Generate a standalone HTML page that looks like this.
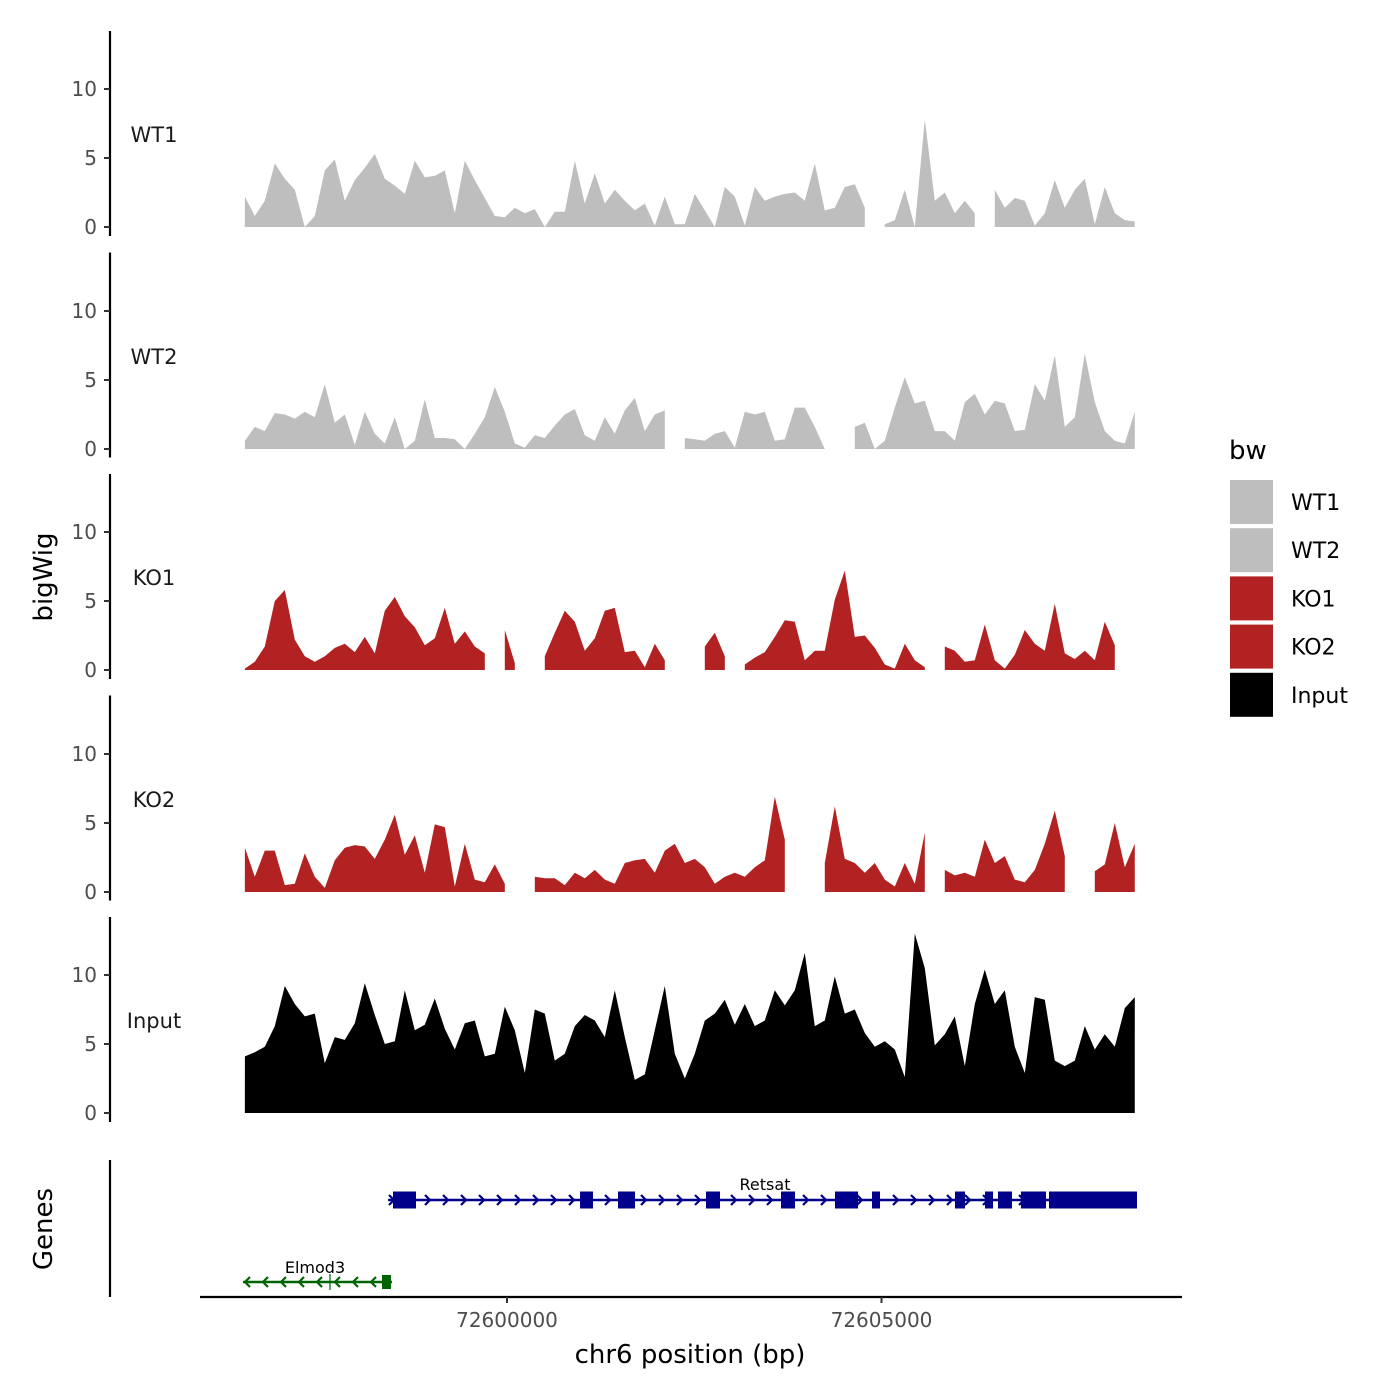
<!DOCTYPE html>
<html><head><meta charset="utf-8"><style>
html,body{margin:0;padding:0;background:#fff;}
svg{display:block;font-family:"DejaVu Sans","Liberation Sans",sans-serif;}
</style></head><body>
<svg id="chart" width="1400" height="1400" viewBox="0 0 1400 1400"></svg>
<script>
const trackNames = ["WT1","WT2","KO1","KO2","Input"];
const trackColors = ["#bebebe","#bebebe","#b22222","#b22222","#000000"];
const yTicks = [0,5,10];
const xTicks = [72600000,72605000];
const xTickLabels = ["72600000","72605000"];
const binStart = 72596500;
const binSize = 133.5;
const wt1 = [2.2,0.8,1.9,4.6,3.5,2.7,0,0.8,4.1,4.9,1.9,3.4,4.3,5.3,3.5,3.0,2.4,4.8,3.6,3.7,4.1,1.0,4.8,3.4,2.1,0.8,0.7,1.4,1.0,1.3,0,1.1,1.1,4.8,1.7,3.9,1.7,2.7,1.9,1.2,1.7,0.1,2.2,0.2,0.2,2.4,1.2,0,2.9,2.2,0.1,2.9,1.9,2.2,2.4,2.5,1.9,4.6,1.2,1.4,2.9,3.1,1.4,null,0.2,0.5,2.7,0,7.8,1.9,2.5,1.0,1.9,1.0,null,2.7,1.4,2.1,1.9,0.1,1.0,3.4,1.4,2.7,3.5,0.2,2.9,1.0,0.5,0.4];
const wt2 = [0.6,1.6,1.3,2.6,2.5,2.2,2.7,2.3,4.7,1.9,2.5,0.3,2.7,1.1,0.4,2.3,0,0.6,3.6,0.8,0.8,0.7,0,1.1,2.3,4.5,2.7,0.4,0.1,1.0,0.8,1.7,2.5,2.9,1.0,0.6,2.3,1.1,2.8,3.7,1.3,2.5,2.8,null,0.8,0.7,0.6,1.1,1.3,0.1,2.7,2.5,2.7,0.6,0.7,3.0,3.0,1.6,0,null,null,1.6,1.9,0,0.6,3.0,5.2,3.3,3.5,1.3,1.3,0.6,3.4,4.0,2.5,3.5,3.3,1.3,1.4,4.7,3.5,6.8,1.6,2.3,6.9,3.4,1.3,0.6,0.4,2.7];
const ko1 = [0.1,0.6,1.7,5.0,5.8,2.2,1.0,0.6,1.0,1.6,1.9,1.3,2.4,1.2,4.3,5.3,3.9,3.1,1.8,2.3,4.5,1.9,2.8,1.7,1.2,null,2.9,0.5,null,null,1.0,2.7,4.3,3.5,1.4,2.3,4.3,4.5,1.3,1.4,0.2,1.9,0.7,null,0.6,null,1.7,2.7,1.0,null,0.4,0.9,1.3,2.4,3.6,3.5,0.7,1.4,1.4,5.1,7.2,2.4,2.5,1.6,0.4,0.1,1.9,0.7,0.2,null,1.7,1.4,0.6,0.7,3.3,0.7,0.1,1.1,2.9,1.9,1.4,4.8,1.2,0.8,1.4,0.7,3.5,1.8,null,null];
const ko2 = [3.2,1.1,3.0,3.0,0.5,0.6,2.8,1.1,0.3,2.3,3.2,3.4,3.3,2.4,3.8,5.6,2.7,4.1,1.4,4.9,4.7,0.4,3.5,0.9,0.7,2.0,0.6,null,null,1.1,1.0,1.0,0.5,1.4,1.0,1.6,0.9,0.6,2.1,2.3,2.4,1.4,3.0,3.5,2.1,2.4,1.8,0.6,1.1,1.4,1.1,1.8,2.3,6.9,3.8,null,null,null,2.1,6.2,2.4,2.1,1.4,2.1,0.9,0.4,2.1,0.6,4.3,null,1.6,1.2,1.4,1.1,3.8,2.1,2.6,0.9,0.7,1.6,3.5,5.9,2.6,null,null,1.5,2.0,5.0,1.8,3.5];
const input = [4.1,4.4,4.8,6.3,9.2,7.9,7.0,7.2,3.6,5.5,5.3,6.5,9.4,7.1,5.0,5.2,8.9,6.0,6.4,8.3,6.1,4.6,6.5,6.7,4.1,4.3,7.7,6.0,2.9,7.5,7.2,3.8,4.3,6.3,7.1,6.7,5.5,8.9,5.5,2.4,2.8,6.0,9.2,4.3,2.5,4.3,6.7,7.2,8.2,6.4,7.9,6.3,6.7,8.9,7.8,8.9,11.6,6.3,6.7,9.9,7.2,7.5,5.8,4.8,5.2,4.6,2.6,13.0,10.5,4.9,5.7,7.0,3.4,7.9,10.4,7.9,8.9,4.8,2.9,8.4,8.2,3.8,3.4,3.8,6.3,4.6,5.7,4.8,7.6,8.4];
const seriesValues = [wt1,wt2,ko1,ko2,input];
const retsatExons = [[72598478,72598785],[72600975,72601148],[72601482,72601709],[72602657,72602844],[72603658,72603845],[72604379,72604686],[72604873,72604980],[72605981,72606115],[72606382,72606489],[72606555,72606742],[72606862,72607196],[72607236,72608411]];
const retsatRange = [72598411,72608411];
const elmodRange = [72596475,72598465];
const elmodExons = [[72598331,72598451]];

const NS="http://www.w3.org/2000/svg";
const svg=document.getElementById('chart');
function mk(tag,attrs,parent){const e=document.createElementNS(NS,tag);for(const k in attrs)e.setAttribute(k,attrs[k]);(parent||svg).appendChild(e);return e;}
const pxPerBp=374.5/5000;
function xScale(bp){return 507+(bp-72600000)*pxPerBp;}
const panelTop=[31,252.5,474,695.5,917];
const zeroY=[227,449,670,892,1113];
const pxPerUnit=13.8;
function yScale(k,v){return zeroY[k]-v*pxPerUnit;}

trackNames.forEach((name,k)=>{
  const g=mk('g',{});
  
  
  const ax=mk('line',{x1:110,x2:110,y1:panelTop[k],y2:panelTop[k]+205,stroke:'#000','stroke-width':2.2},g);
  
  
  yTicks.forEach(t=>{
    const y=yScale(k,t);
    mk('line',{x1:104,x2:110,y1:y,y2:y,stroke:'#333','stroke-width':2},g);
    const tx=mk('text',{x:97,y:y+7,'text-anchor':'end','font-size':20,fill:'#4d4d4d'},g);
    tx.textContent=t;
    
    
  });
  const lab=mk('text',{x:154,y:zeroY[k]-85,'text-anchor':'middle','font-size':21,fill:'#1a1a1a'},g);
  lab.textContent=name;
  
  
  const vals=seriesValues[k];
  let seg=[];
  const flush=()=>{
    if(seg.length){
      let d='M'+seg[0][0]+','+zeroY[k];
      seg.forEach(p=>{d+=' L'+p[0].toFixed(1)+','+p[1].toFixed(1);});
      d+=' L'+seg[seg.length-1][0]+','+zeroY[k]+' Z';
      const p=mk('path',{d:d,fill:trackColors[k]},g);
      
      
    }
    seg=[];
  };
  vals.forEach((v,i)=>{
    if(v===null){flush();return;}
    seg.push([xScale(binStart+i*binSize),yScale(k,v)]);
  });
  flush();
});

const yt=mk('text',{x:52,y:577,'text-anchor':'middle','font-size':26,transform:'rotate(-90 52 577)'});
yt.textContent='bigWig';



const ga=mk('line',{x1:110,x2:110,y1:1160,y2:1297,stroke:'#000','stroke-width':2.2});


const gt=mk('text',{x:52,y:1229,'text-anchor':'middle','font-size':26,transform:'rotate(-90 52 1229)'});
gt.textContent='Genes';



function drawGene(name,range,exons,y,color,dir,labelX,labelY,h){
  const g=mk('g',{});
  
  
  const x1=xScale(range[0]),x2=xScale(range[1]);
  mk('line',{x1:x1,x2:x2,y1:y,y2:y,stroke:color,'stroke-width':2.5},g);
  for(let x=x1+4;x<x2-4;x+=18){
    const d=dir>0?`M${x-3},${y-5} L${x+2},${y} L${x-3},${y+5}`:`M${x+3},${y-5} L${x-2},${y} L${x+3},${y+5}`;
    mk('path',{d:d,stroke:color,'stroke-width':2.2,fill:'none'},g);
  }
  exons.forEach(e=>{
    const r=mk('rect',{x:xScale(e[0]),y:y-h/2,width:xScale(e[1])-xScale(e[0]),height:h,fill:color},g);
    
    
  });
  const t=mk('text',{x:labelX,y:labelY,'text-anchor':'middle','font-size':16,fill:'#000'},g);
  t.textContent=name;
  
  
  return g;
}
drawGene('Retsat',retsatRange,retsatExons,1200,'#00008b',1,765,1190,17);
const eg=drawGene('Elmod3',elmodRange,elmodExons,1282,'#006400',-1,315,1273,14);
mk('line',{x1:330,x2:330,y1:1274,y2:1290,stroke:'#006400','stroke-width':1.2},eg);

const xa=mk('line',{x1:200,x2:1182,y1:1297,y2:1297,stroke:'#000','stroke-width':2.2});


xTicks.forEach((t,i)=>{
  const x=xScale(t);
  mk('line',{x1:x,x2:x,y1:1297,y2:1303,stroke:'#333','stroke-width':2});
  const tx=mk('text',{x:x,y:1327,'text-anchor':'middle','font-size':20,fill:'#4d4d4d'});
  tx.textContent=xTickLabels[i];
  
  
});
const xt=mk('text',{x:690,y:1363,'text-anchor':'middle','font-size':26});
xt.textContent='chr6 position (bp)';



const lg=mk('g',{});


const lt=mk('text',{x:1229,y:459,'font-size':26},lg);
lt.textContent='bw';


trackNames.forEach((n,k)=>{
  const y=480+k*48.2;
  const e=mk('g',{},lg);
  
  
  mk('rect',{x:1230,y:y,width:43,height:44,fill:trackColors[k]},e);
  const t=mk('text',{x:1291,y:y+30,'font-size':22},e);
  t.textContent=n;
});
</script>
</body></html>
